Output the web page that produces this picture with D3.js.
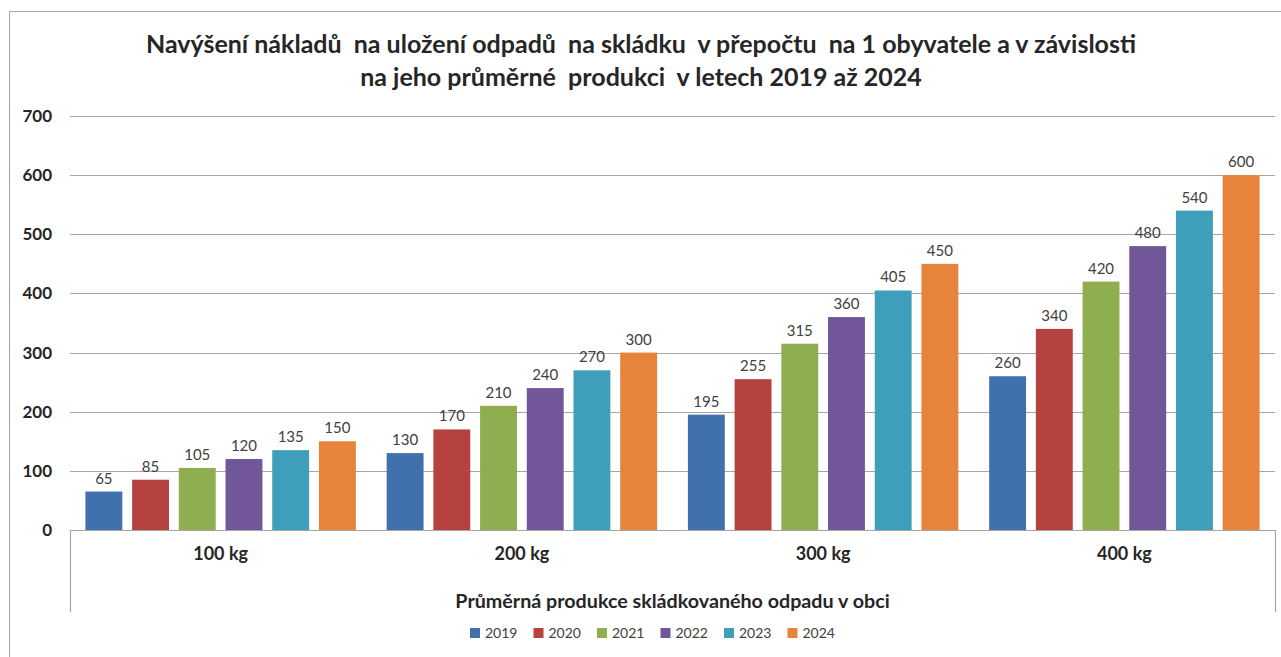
<!DOCTYPE html>
<html>
<head>
<meta charset="utf-8">
<script src="https://cdn.jsdelivr.net/npm/d3@7"></script>
<style>
  body { margin: 0; background: #fff; }
  text { font-family: Lato, "Open Sans", sans-serif; white-space: pre; }
</style>
</head>
<body>
<script>
// data
var categories = ["100 kg", "200 kg", "300 kg", "400 kg"];
var years = ["2019", "2020", "2021", "2022", "2023", "2024"];
var v2019 = [65, 130, 195, 260];
var v2020 = [85, 170, 255, 340];
var v2021 = [105, 210, 315, 420];
var v2022 = [120, 240, 360, 480];
var v2023 = [135, 270, 405, 540];
var v2024 = [150, 300, 450, 600];
var yTicks = [0, 100, 200, 300, 400, 500, 600, 700];
var colors = ["#4071ad", "#b5423f", "#8fae50", "#71579a", "#3f9fba", "#e5843a"];

var series = [v2019, v2020, v2021, v2022, v2023, v2024];

var width = 1281, height = 657;
var svg = d3.select("body").append("svg")
    .attr("width", width)
    .attr("height", height);

// outer frame
svg.append("rect")
   .attr("x", 9.5).attr("y", 11.5)
   .attr("width", 1290).attr("height", 700)
   .attr("fill", "none")
   .attr("stroke", "#a6a6a6");

// title
var title = svg.append("text")
   .attr("text-anchor", "middle")
   .attr("font-weight", "bold")
   .attr("font-size", 25)
   .attr("fill", "#262626");
title.append("tspan").attr("x", 641).attr("y", 53)
   .text("Navýšení nákladů  na uložení odpadů  na skládku  v přepočtu  na 1 obyvatele a v závislosti");
title.append("tspan").attr("x", 641).attr("y", 86)
   .text("na jeho průměrné  produkci  v letech 2019 až 2024");

var plotL = 70, plotR = 1275, plotT = 116, plotB = 530;

var x0 = d3.scaleBand()
    .domain(categories)
    .range([plotL, plotR]);

var x1 = d3.scaleBand()
    .domain(years)
    .range([0, x0.bandwidth()])
    .paddingInner(0.21)
    .paddingOuter(0.33);

var y = d3.scaleLinear()
    .domain([0, 700])
    .range([plotB, plotT]);

// gridlines
svg.selectAll(".grid")
   .data(yTicks)
   .enter()
   .append("line")
   .attr("class", "grid")
   .attr("x1", plotL).attr("x2", plotR)
   .attr("y1", function(d){ return Math.round(y(d)) + 0.5; })
   .attr("y2", function(d){ return Math.round(y(d)) + 0.5; })
   .attr("stroke", "#a6a6a6")
   .attr("stroke-width", 1.2);

// y axis labels
svg.selectAll(".ylab")
   .data(yTicks)
   .enter()
   .append("text")
   .attr("class", "ylab")
   .attr("x", 52)
   .attr("y", function(d){ return y(d); })
   .attr("dy", "0.35em")
   .attr("text-anchor", "end")
   .attr("font-weight", "bold")
   .attr("font-size", 17)
   .attr("fill", "#262626")
   .text(function(d){ return d; });

// x axis box ends
svg.selectAll(".xend")
   .data([plotL, plotR])
   .enter()
   .append("line")
   .attr("class", "xend")
   .attr("x1", function(d){ return d + 0.5; })
   .attr("x2", function(d){ return d + 0.5; })
   .attr("y1", plotB).attr("y2", 612)
   .attr("stroke", "#a6a6a6")
   .attr("stroke-width", 1.2);

// bars
var groups = svg.selectAll(".grp")
   .data(categories)
   .enter()
   .append("g")
   .attr("class", "grp")
   .attr("transform", function(d){ return "translate(" + x0(d) + ",0)"; });

groups.selectAll("rect")
   .data(function(d, i){
     return years.map(function(yr, j){ return {year: yr, value: series[j][i], k: j}; });
   })
   .enter()
   .append("rect")
   .attr("x", function(d){ return x1(d.year); })
   .attr("y", function(d){ return y(d.value); })
   .attr("width", x1.bandwidth())
   .attr("height", function(d){ return y(0) - y(d.value); })
   .attr("fill", function(d){ return colors[d.k]; });

groups.selectAll(".val")
   .data(function(d, i){
     return years.map(function(yr, j){ return {year: yr, value: series[j][i]}; });
   })
   .enter()
   .append("text")
   .attr("class", "val")
   .attr("x", function(d){ return x1(d.year) + x1.bandwidth() / 2; })
   .attr("y", function(d){ return y(d.value) - 8; })
   .attr("text-anchor", "middle")
   .attr("font-size", 15)
   .attr("fill", "#404040")
   .text(function(d){ return d.value; });

// category labels
svg.selectAll(".cat")
   .data(categories)
   .enter()
   .append("text")
   .attr("class", "cat")
   .attr("x", function(d){ return x0(d) + x0.bandwidth() / 2; })
   .attr("y", 560)
   .attr("text-anchor", "middle")
   .attr("font-weight", "bold")
   .attr("font-size", 18)
   .attr("fill", "#262626")
   .text(function(d){ return d; });

// axis title
svg.append("text")
   .attr("x", (plotL + plotR) / 2)
   .attr("y", 608)
   .attr("text-anchor", "middle")
   .attr("font-weight", "bold")
   .attr("font-size", 19.7)
   .attr("fill", "#262626")
   .text("Průměrná produkce skládkovaného odpadu v obci");

// legend
var legend = svg.selectAll(".leg")
   .data(years)
   .enter()
   .append("g")
   .attr("class", "leg")
   .attr("transform", function(d, i){ return "translate(" + (470 + i * 63.5) + ",628)"; });

legend.append("rect")
   .attr("width", 10).attr("height", 10)
   .attr("fill", function(d, i){ return colors[i]; });

legend.append("text")
   .attr("x", 15).attr("y", 10)
   .attr("font-size", 14)
   .attr("fill", "#404040")
   .text(function(d){ return d; });
</script>
</body>
</html>
